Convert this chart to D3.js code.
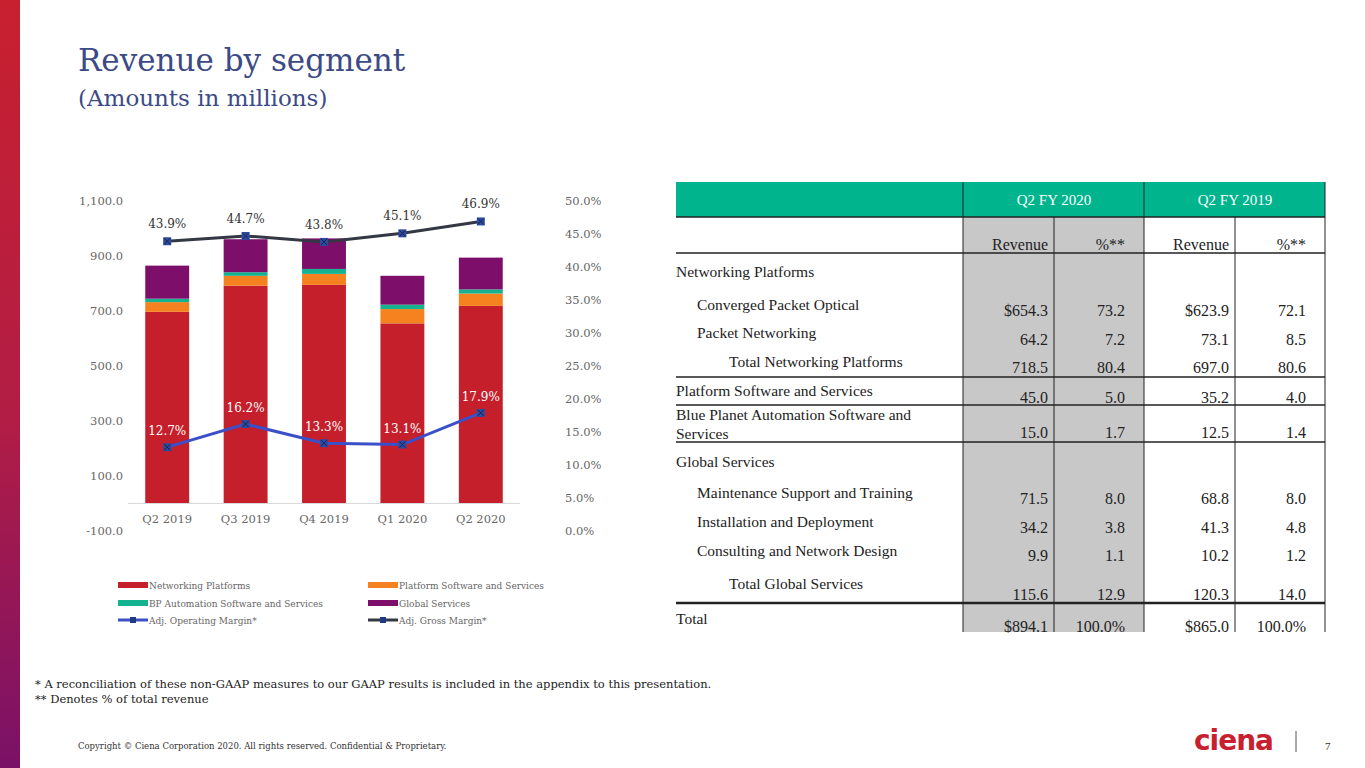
<!DOCTYPE html>
<html><head><meta charset="utf-8">
<script src="https://cdn.jsdelivr.net/npm/d3@7"></script>
<style>body{margin:0;background:#fff}svg{display:block}text{font-family:"Liberation Serif","DejaVu Serif",serif}</style>
</head><body><svg id="c" width="1365" height="768"></svg>
<script>
const quarters=["Q2 2019","Q3 2019","Q4 2019","Q1 2020","Q2 2020"];
const networking=[697.0,792,795,655,718.5];
const platformSw=[35.2,36,40,52,45.0];
const bpAutomation=[12.5,13,18,16,15.0];
const globalSvc=[120.3,120,111,105,115.6];
const opMargin=[12.7,16.2,13.3,13.1,17.9];
const grossMargin=[43.9,44.7,43.8,45.1,46.9];
const leftTicks=[-100,100,300,500,700,900,1100];
const rightTicks=[0,5,10,15,20,25,30,35,40,45,50];
const seriesNames=["Networking Platforms","Platform Software and Services","BP Automation Software and Services","Global Services"];
const seriesColors=["#c51f2c","#f5821f","#14b28f","#7d0f6b"];
const tableLabels=["Networking Platforms","Converged Packet Optical","Packet Networking","Total Networking Platforms","Platform Software and Services","Blue Planet Automation  Software and|Services","Global Services","Maintenance Support and Training","Installation and Deployment","Consulting and Network Design","Total Global Services","Total"];
const tableIndent=[0,1,1,2,0,0,0,1,1,1,2,0];
const rev2020=["","$654.3","64.2","718.5","45.0","15.0","","71.5","34.2","9.9","115.6","$894.1"];
const pct2020=["","73.2","7.2","80.4","5.0","1.7","","8.0","3.8","1.1","12.9","100.0%"];
const rev2019=["","$623.9","73.1","697.0","35.2","12.5","","68.8","41.3","10.2","120.3","$865.0"];
const pct2019=["","72.1","8.5","80.6","4.0","1.4","","8.0","4.8","1.2","14.0","100.0%"];

const DV="DejaVu Serif";
const svg=d3.select("#c");
const g0=svg.append("defs").append("linearGradient").attr("id","lg").attr("x1",0).attr("y1",0).attr("x2",0).attr("y2",1);
g0.append("stop").attr("offset","0%").attr("stop-color","#c8202f");
g0.append("stop").attr("offset","55%").attr("stop-color","#b11d45");
g0.append("stop").attr("offset","100%").attr("stop-color","#7a1167");
svg.append("rect").attr("x",0).attr("y",0).attr("width",20).attr("height",768).attr("fill","url(#lg)");

svg.append("text").attr("x",78).attr("y",71).style("font-family",DV).attr("font-size",31).attr("fill","#3c4a86").text("Revenue by segment");
svg.append("text").attr("x",78).attr("y",106).style("font-family",DV).attr("font-size",23).attr("fill","#3c4a86").text("(Amounts in millions)");

const x=d3.scaleBand().domain(quarters).range([128,520]).paddingInner(0.44).paddingOuter(0.22);
const yL=d3.scaleLinear().domain([-100,1100]).range([531,201]);
const yR=d3.scaleLinear().domain([0,50]).range([531,201]);
const grey="#666";
const fmtL=d=>d3.format(",.1f")(d).replace("−","-");
svg.append("g").selectAll("text").data(leftTicks).join("text").attr("x",123).attr("y",d=>yL(d)+4).attr("text-anchor","end").style("font-family",DV).attr("font-size",11.5).attr("fill",grey).text(fmtL);
svg.append("g").selectAll("text").data(rightTicks).join("text").attr("x",565).attr("y",d=>yR(d)+4).style("font-family",DV).attr("font-size",11.5).attr("fill",grey).text(d=>d.toFixed(1)+"%");
const stackData=quarters.map((q,i)=>({q,a:networking[i],b:platformSw[i],c:bpAutomation[i],d:globalSvc[i]}));
const st=d3.stack().keys(["a","b","c","d"])(stackData);
svg.append("g").selectAll("g").data(st).join("g").attr("fill",(d,i)=>seriesColors[i])
 .selectAll("rect").data(d=>d).join("rect").attr("x",d=>x(d.data.q)).attr("width",x.bandwidth())
 .attr("y",d=>yL(d[1])).attr("height",d=>yL(d[0])-yL(d[1]));
svg.append("line").attr("x1",128).attr("x2",520).attr("y1",yL(0)).attr("y2",yL(0)).attr("stroke","#d9d9d9");
svg.append("g").selectAll("text").data(quarters).join("text").attr("x",d=>x(d)+x.bandwidth()/2).attr("y",523).attr("text-anchor","middle").style("font-family",DV).attr("font-size",11.5).attr("fill",grey).text(d=>d);
const cx=d=>x(d)+x.bandwidth()/2;
function drawLine(vals,color,labColor,dy){
 const line=d3.line().x((v,i)=>cx(quarters[i])).y(v=>yR(v));
 svg.append("path").datum(vals).attr("d",line).attr("fill","none").attr("stroke",color).attr("stroke-width",3);
 const m=svg.append("g").selectAll("g").data(vals).join("g").attr("transform",(v,i)=>`translate(${cx(quarters[i])},${yR(v)})`);
 m.append("rect").attr("x",-4).attr("y",-4).attr("width",8).attr("height",8).attr("fill","#2b4aa0");
 m.append("path").attr("d","M-3,-3L3,3M-3,3L3,-3").attr("stroke","#1a2550").attr("stroke-width",1);
 svg.append("g").selectAll("text").data(vals).join("text").attr("x",(v,i)=>cx(quarters[i])).attr("y",v=>yR(v)+dy).attr("text-anchor","middle").style("font-family",DV).attr("font-size",12).attr("fill",labColor).text(v=>v.toFixed(1)+"%");
}
drawLine(grossMargin,"#333844","#333",-13);
drawLine(opMargin,"#3b4fc8","#fff",-12);

const leg=[{n:seriesNames[0],c:seriesColors[0],x:118,y:585},{n:seriesNames[1],c:seriesColors[1],x:368,y:585},{n:seriesNames[2],c:seriesColors[2],x:118,y:603},{n:seriesNames[3],c:seriesColors[3],x:368,y:603},{n:"Adj. Operating Margin*",c:"#3b4fc8",x:118,y:620,l:1},{n:"Adj. Gross Margin*",c:"#333844",x:368,y:620,l:1}];
const lg=svg.append("g").selectAll("g").data(leg).join("g").attr("transform",d=>`translate(${d.x},${d.y})`);
lg.append("rect").attr("x",0).attr("y",d=>d.l?-1.5:-3).attr("width",30).attr("height",d=>d.l?3:6).attr("fill",d=>d.c);
lg.filter(d=>d.l).append("rect").attr("x",12).attr("y",-3).attr("width",6).attr("height",6).attr("fill","#1f3a80");
lg.append("text").attr("x",31).attr("y",4).style("font-family",DV).attr("font-size",9).attr("fill",grey).text(d=>d.n);

const T=svg.append("g");
T.append("rect").attr("x",676).attr("y",182).attr("width",649).attr("height",35).attr("fill","#00b48d");
T.append("rect").attr("x",963).attr("y",217).attr("width",181).attr("height",415).attr("fill","#c8c8c8");
[963,1144].forEach(xx=>T.append("line").attr("x1",xx).attr("x2",xx).attr("y1",182).attr("y2",217).attr("stroke","#222"));
T.append("line").attr("x1",1325).attr("x2",1325).attr("y1",182).attr("y2",632).attr("stroke","#222");
[963,1054,1144,1235].forEach(xx=>T.append("line").attr("x1",xx).attr("x2",xx).attr("y1",217).attr("y2",632).attr("stroke","#222"));
[[217,1.5],[253,1.5],[377,1.5],[405,1.5],[442,1.5],[603,2.5]].forEach(([yy,w])=>T.append("line").attr("x1",676).attr("x2",1325).attr("y1",yy).attr("y2",yy).attr("stroke","#222").attr("stroke-width",w));
T.append("text").attr("x",1054).attr("y",205).attr("text-anchor","middle").attr("font-size",15).attr("fill","#fff").text("Q2 FY 2020");
T.append("text").attr("x",1235).attr("y",205).attr("text-anchor","middle").attr("font-size",15).attr("fill","#fff").text("Q2 FY 2019");
[["Revenue",1048],["%**",1125],["Revenue",1229],["%**",1306]].forEach(([t,xx])=>T.append("text").attr("x",xx).attr("y",250).attr("text-anchor","end").attr("font-size",16).attr("fill","#222").text(t));
const labelY=[277,310,338,367,396,420,467,498,527,556,589,624];
const valY=[0,316,345,373,403,438,0,504,533,561,600,632];
tableLabels.forEach((t,i)=>{
 const parts=t.split("|");
 parts.forEach((p,k)=>T.append("text").attr("x",676+[0,21,53][tableIndent[i]]).attr("y",labelY[i]+k*19).attr("font-size",15.5).attr("fill","#222").text(p));
});
[[rev2020,1048],[pct2020,1125],[rev2019,1229],[pct2019,1306]].forEach(([arr,xx])=>arr.forEach((v,i)=>{if(v)T.append("text").attr("x",xx).attr("y",valY[i]).attr("text-anchor","end").attr("font-size",16).attr("fill","#222").text(v);}));

svg.append("text").attr("x",35).attr("y",688).style("font-family",DV).attr("font-size",11.5).attr("fill","#222").text("* A reconciliation of these non-GAAP measures to our GAAP results is included in the appendix to this presentation.");
svg.append("text").attr("x",35).attr("y",703).style("font-family",DV).attr("font-size",11.5).attr("fill","#222").text("** Denotes % of total revenue");
svg.append("text").attr("x",78).attr("y",749).style("font-family",DV).attr("font-size",8.5).attr("fill","#333").text("Copyright © Ciena Corporation 2020. All rights reserved. Confidential & Proprietary.");
svg.append("text").attr("x",1194).attr("y",750).style("font-family","DejaVu Sans").attr("font-size",28).attr("font-weight","bold").attr("fill","#c8202f").attr("letter-spacing",-1).text("ciena");
svg.append("line").attr("x1",1296).attr("x2",1296).attr("y1",731).attr("y2",752).attr("stroke","#555");
svg.append("text").attr("x",1325).attr("y",750).attr("font-size",11).attr("fill","#333").text("7");
</script></body></html>
